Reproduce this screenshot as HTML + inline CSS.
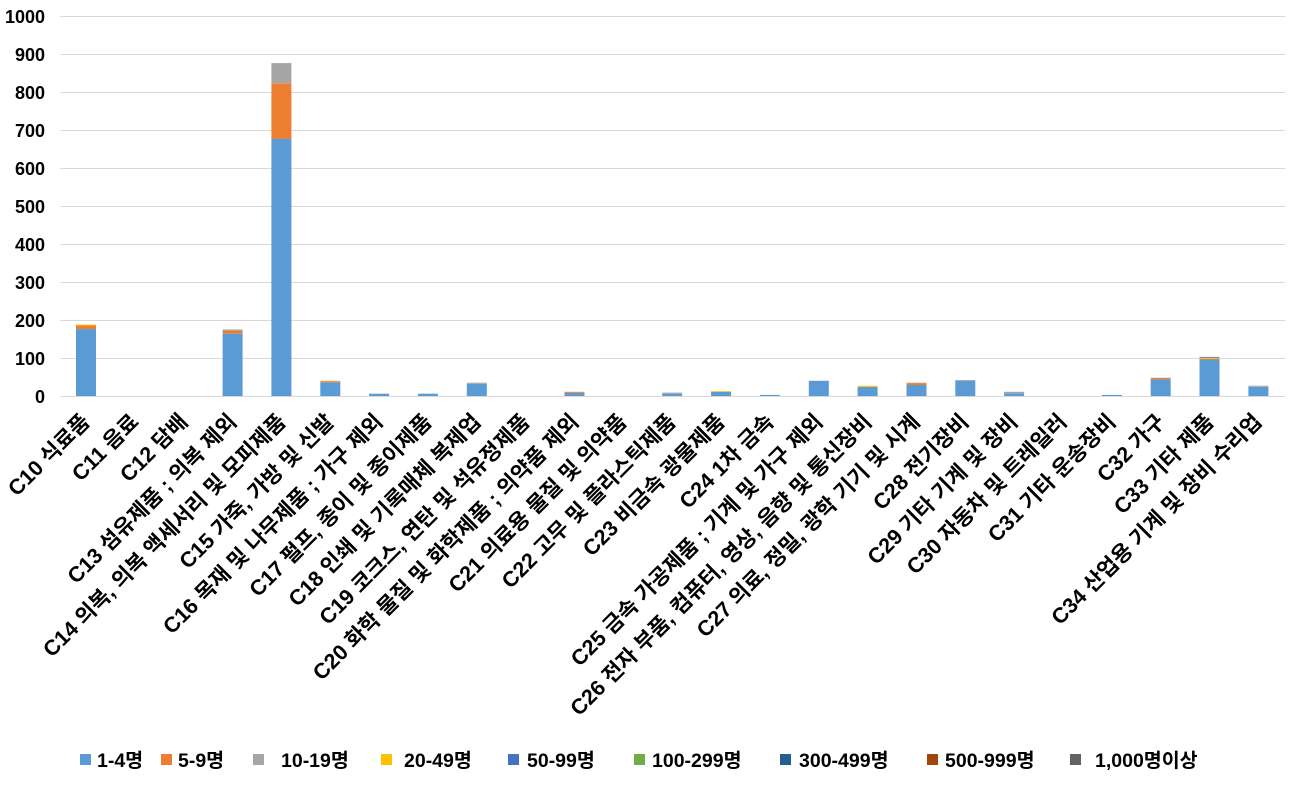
<!DOCTYPE html>
<html><head><meta charset="utf-8"><style>
html,body{margin:0;padding:0;background:#fff;}
svg text{font-family:"Liberation Sans","Noto Sans CJK KR",sans-serif;font-weight:bold;fill:#000;}
</style></head><body>
<svg id="c" width="1296" height="781" xmlns="http://www.w3.org/2000/svg">
<g stroke="#d9d9d9" stroke-width="1">
<line x1="60" x2="1285" y1="16.5" y2="16.5"/><line x1="60" x2="1285" y1="54.5" y2="54.5"/>
<line x1="60" x2="1285" y1="92.5" y2="92.5"/><line x1="60" x2="1285" y1="130.5" y2="130.5"/>
<line x1="60" x2="1285" y1="168.5" y2="168.5"/><line x1="60" x2="1285" y1="206.5" y2="206.5"/>
<line x1="60" x2="1285" y1="244.5" y2="244.5"/><line x1="60" x2="1285" y1="282.5" y2="282.5"/>
<line x1="60" x2="1285" y1="320.5" y2="320.5"/><line x1="60" x2="1285" y1="358.5" y2="358.5"/>
<line x1="60" x2="1285" y1="396.5" y2="396.5"/>
</g>
<g font-size="18" text-anchor="end">
<text x="45" y="23">1000</text><text x="45" y="61">900</text><text x="45" y="99">800</text>
<text x="45" y="137">700</text><text x="45" y="175">600</text><text x="45" y="213">500</text>
<text x="45" y="251">400</text><text x="45" y="289">300</text><text x="45" y="327">200</text>
<text x="45" y="365">100</text><text x="45" y="403">0</text>
</g>
<g id="bars"></g>
<g font-size="21.5" text-anchor="end" transform="translate(-3,11)">
<text transform="translate(94,412) rotate(-45)">C10 식료품</text>
<text transform="translate(143,412) rotate(-45)">C11 음료</text>
<text transform="translate(192,412) rotate(-45)">C12 담배</text>
<text transform="translate(241,412) rotate(-45)">C13 섬유제품 ; 의복 제외</text>
<text transform="translate(290,412) rotate(-45)">C14 의복, 의복 액세서리 및 모피제품</text>
<text transform="translate(338,412) rotate(-45)">C15 가죽, 가방 및 신발</text>
<text transform="translate(387,412) rotate(-45)">C16 목재 및 나무제품 ; 가구 제외</text>
<text transform="translate(436,412) rotate(-45)">C17 펄프, 종이 및 종이제품</text>
<text transform="translate(485,412) rotate(-45)">C18 인쇄 및 기록매체 복제업</text>
<text transform="translate(534,412) rotate(-45)">C19 코크스, 연탄 및 석유정제품</text>
<text transform="translate(583,412) rotate(-45)">C20 화학 물질 및 화학제품 ; 의약품 제외</text>
<text transform="translate(631,412) rotate(-45)">C21 의료용 물질 및 의약품</text>
<text transform="translate(680,412) rotate(-45)">C22 고무 및 플라스틱제품</text>
<text transform="translate(729,412) rotate(-45)">C23 비금속 광물제품</text>
<text transform="translate(778,412) rotate(-45)">C24 1차 금속</text>
<text transform="translate(827,412) rotate(-45)">C25 금속 가공제품 ; 기계 및 가구 제외</text>
<text transform="translate(876,412) rotate(-45)">C26 전자 부품, 컴퓨터, 영상, 음향 및 통신장비</text>
<text transform="translate(924,412) rotate(-45)">C27 의료, 정밀, 광학 기기 및 시계</text>
<text transform="translate(973,412) rotate(-45)">C28 전기장비</text>
<text transform="translate(1022,412) rotate(-45)">C29 기타 기계 및 장비</text>
<text transform="translate(1071,412) rotate(-45)">C30 자동차 및 트레일러</text>
<text transform="translate(1120,412) rotate(-45)">C31 기타 운송장비</text>
<text transform="translate(1169,412) rotate(-45)">C32 가구</text>
<text transform="translate(1218,412) rotate(-45)">C33 기타 제품</text>
<text transform="translate(1266,412) rotate(-45)">C34 산업용 기계 및 장비 수리업</text>
</g>
<g font-size="19.5">
<rect x="80" y="754" width="11" height="11" fill="#5b9bd5"/><text x="97" y="767">1-4명</text>
<rect x="161" y="754" width="11" height="11" fill="#ed7d31"/><text x="178" y="767">5-9명</text>
<rect x="253" y="754" width="11" height="11" fill="#a5a5a5"/><text x="281" y="767">10-19명</text>
<rect x="381" y="754" width="11" height="11" fill="#ffc000"/><text x="404" y="767">20-49명</text>
<rect x="508" y="754" width="11" height="11" fill="#4472c4"/><text x="527" y="767">50-99명</text>
<rect x="634" y="754" width="11" height="11" fill="#70ad47"/><text x="652" y="767">100-299명</text>
<rect x="780" y="754" width="11" height="11" fill="#255e91"/><text x="799" y="767">300-499명</text>
<rect x="927" y="754" width="11" height="11" fill="#9e480e"/><text x="945" y="767">500-999명</text>
<rect x="1070" y="754" width="11" height="11" fill="#636363"/><text x="1095" y="767">1,000명이상</text>
</g>
</svg>
<script>
var C=["#5b9bd5","#ed7d31","#a5a5a5","#ffc000","#4472c4"];
var D={0:[176,10,0,2],3:[164,8,3],4:[677,146,53],5:[36,3,0,1],6:[6],7:[6],8:[32,0,3],10:[8,3],
12:[6,0,3],13:[11,0,0,2],14:[3],15:[40],16:[24,0,0,3],17:[29,5,1],18:[40,0,2],19:[7,0,4],21:[3],22:[44,4],23:[96,2,0,3,2],24:[24,0,3]};
var g=document.getElementById("bars"),s="";
for(var k in D){var x=86+k*48.85-10,v=0;D[k].forEach(function(h,j){if(!h)return;var y1=396-0.38*(v+h),y0=396-0.38*v;
s+='<rect x="'+x.toFixed(1)+'" y="'+y1.toFixed(1)+'" width="20" height="'+(y0-y1).toFixed(1)+'" fill="'+C[j]+'"/>';v+=h;});}
g.innerHTML=s;
</script>
</body></html>
